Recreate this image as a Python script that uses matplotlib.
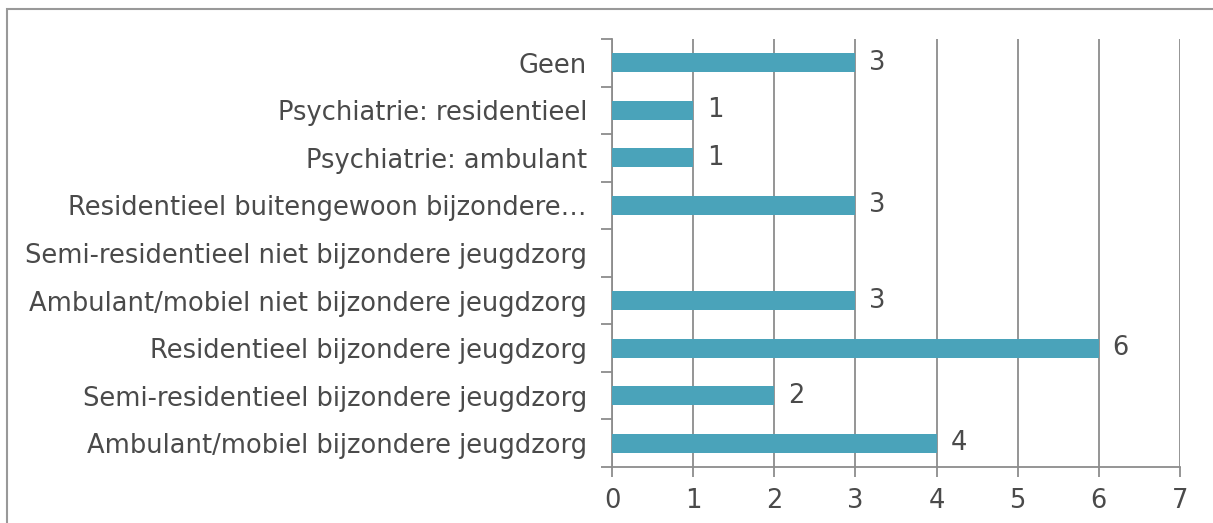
import matplotlib.pyplot as plt
from matplotlib.patches import Rectangle

categories = ['Ambulant/mobiel bijzondere jeugdzorg',
              'Semi-residentieel bijzondere jeugdzorg',
              'Residentieel bijzondere jeugdzorg',
              'Ambulant/mobiel niet bijzondere jeugdzorg',
              'Semi-residentieel niet bijzondere jeugdzorg',
              'Residentieel buitengewoon bijzondere\u2026',
              'Psychiatrie: ambulant',
              'Psychiatrie: residentieel',
              'Geen']
values = [4, 2, 6, 3, 0, 3, 1, 1, 3]
xticks = [0, 1, 2, 3, 4, 5, 6, 7]

bar_col = '#4AA3BA'
txt_col = '#4a4a4a'
line_col = '#8c8c8c'
fs = 18.5

plt.rcParams['font.family'] = ['DejaVu Sans']

fig = plt.figure(figsize=(12.13, 5.23), dpi=100)
ax = fig.add_axes([612/1213, 1 - 467/523, (1180 - 612)/1213, (467 - 39)/523])

pos = list(range(len(categories)))
ax.barh(pos, values, height=0.4, color=bar_col, zorder=3)
for p, v in zip(pos, values):
    if v > 0:
        ax.text(v + 0.17, p, str(v), va='center', ha='left', fontsize=fs, color=txt_col)

ax.set_xlim(0, 7)
ax.set_ylim(-0.5, len(categories) - 0.5)
ax.set_xticks(xticks)
ax.set_yticks(pos)
ax.set_yticklabels(categories)
ax.set_yticks([p - 0.5 for p in range(len(categories) + 1)], minor=True)
ax.tick_params(axis='y', which='major', length=0, pad=18, labelsize=fs, labelcolor=txt_col)
ax.tick_params(axis='y', which='minor', length=8, width=1.3, color=line_col, direction='out')
ax.tick_params(axis='x', length=7, width=1.3, color=line_col, labelsize=fs, labelcolor=txt_col, pad=8)
ax.grid(axis='x', color=line_col, linewidth=1.3, zorder=0)
for s in ['top', 'right']:
    ax.spines[s].set_visible(False)
for s in ['left', 'bottom']:
    ax.spines[s].set_color(line_col)
    ax.spines[s].set_linewidth(1.3)

# outer chart border (cut off on right and bottom)
fig.patches.append(Rectangle((7/1213, -0.1), 1.2, 1 - 9/523 + 0.1, transform=fig.transFigure,
                             fill=False, edgecolor='#999999', linewidth=1.5))

fig.savefig('out.png', dpi=100)
